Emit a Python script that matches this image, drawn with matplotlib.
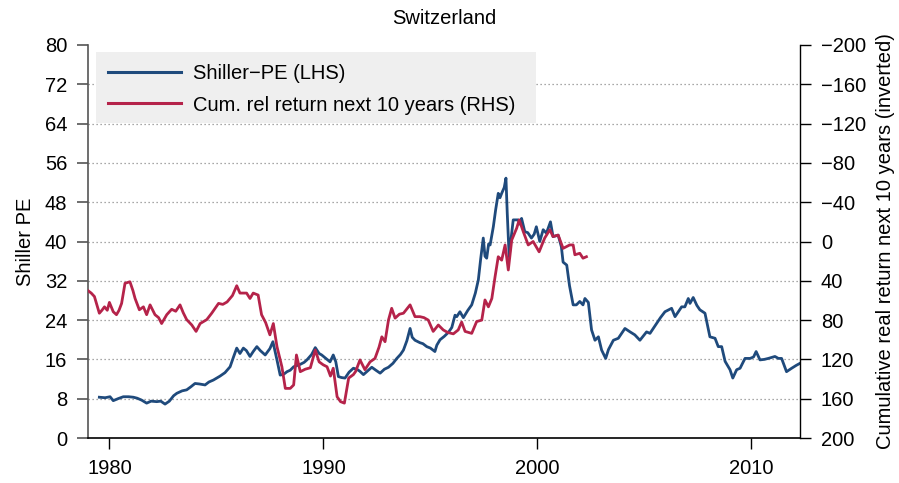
import matplotlib
matplotlib.use("Agg")
import matplotlib.pyplot as plt
from matplotlib.patches import Rectangle

# Shiller PE (left axis)
pe_years = [1979.53, 1979.8, 1980.03, 1980.18, 1980.4, 1980.65, 1980.9, 1981.12, 1981.3, 1981.51,
            1981.74, 1981.95, 1982.21, 1982.4, 1982.6, 1982.8, 1983.0, 1983.15, 1983.4, 1983.61,
            1983.8, 1984.0, 1984.2, 1984.47, 1984.65, 1984.86, 1985.17, 1985.4, 1985.64, 1985.8,
            1985.95, 1986.1, 1986.26, 1986.4, 1986.57, 1986.72, 1986.89, 1987.05, 1987.28, 1987.5,
            1987.64, 1987.75, 1987.83, 1987.98, 1988.15, 1988.3, 1988.45, 1988.61, 1988.8, 1988.92,
            1989.1, 1989.23, 1989.45, 1989.62, 1989.8, 1989.92, 1990.17, 1990.31, 1990.46, 1990.58,
            1990.7, 1990.85, 1991.01, 1991.2, 1991.4, 1991.56, 1991.7, 1991.87, 1992.05, 1992.26,
            1992.45, 1992.65, 1992.85, 1993.04, 1993.25, 1993.43, 1993.6, 1993.74, 1993.9, 1994.05,
            1994.15, 1994.28, 1994.51, 1994.65, 1994.83, 1995.0, 1995.21, 1995.3, 1995.45, 1995.65,
            1995.84, 1996.0, 1996.15, 1996.23, 1996.38, 1996.54, 1996.75, 1996.93, 1997.1, 1997.24,
            1997.35, 1997.47, 1997.55, 1997.63, 1997.72, 1997.79, 1997.94, 1998.05, 1998.17, 1998.25,
            1998.33, 1998.45, 1998.53, 1998.59, 1998.68, 1998.78, 1998.87, 1999.1, 1999.2, 1999.26,
            1999.41, 1999.55, 1999.72, 1999.85, 1999.95, 2000.11, 2000.27, 2000.42, 2000.61, 2000.73,
            2000.97, 2001.12, 2001.2, 2001.37, 2001.5, 2001.67, 2001.82, 2001.98, 2002.13, 2002.22,
            2002.38, 2002.53, 2002.69, 2002.85, 2003.0, 2003.19, 2003.32, 2003.55, 2003.78, 2004.09,
            2004.33, 2004.55, 2004.79, 2005.1, 2005.26, 2005.57, 2005.75, 2005.96, 2006.27, 2006.43,
            2006.74, 2006.89, 2007.05, 2007.13, 2007.28, 2007.45, 2007.59, 2007.83, 2008.06, 2008.3,
            2008.45, 2008.61, 2008.77, 2009.0, 2009.13, 2009.31, 2009.47, 2009.7, 2009.94, 2010.1,
            2010.22, 2010.4, 2010.6, 2010.79, 2011.1, 2011.26, 2011.41, 2011.64, 2011.88, 2012.1,
            2012.27]
pe_values = [8.3, 8.2, 8.4, 7.6, 8.0, 8.4, 8.4, 8.3, 8.1, 7.7,
             7.1, 7.5, 7.4, 7.5, 6.9, 7.5, 8.6, 9.1, 9.6, 9.8,
             10.4, 11.1, 11.0, 10.8, 11.4, 11.8, 12.6, 13.3, 14.5, 16.5,
             18.3, 17.2, 18.3, 17.8, 16.6, 17.6, 18.6, 17.8, 16.9, 18.2,
             19.6, 17.5, 15.9, 12.8, 13.0, 13.5, 13.8, 14.5, 14.8, 15.0,
             15.4, 15.9, 17.0, 18.4, 17.2, 16.9, 16.0, 15.5, 16.9, 15.5,
             12.5, 12.3, 12.2, 13.4, 14.2, 14.0, 13.6, 12.9, 13.6, 14.4,
             13.8, 13.2, 14.0, 14.4, 15.2, 16.2, 17.0, 17.9, 19.8, 22.3,
             20.5, 19.9, 19.4, 19.2, 18.6, 18.3, 17.6, 18.9, 20.0, 20.7,
             21.5, 22.5, 25.0, 24.7, 25.7, 24.5, 26.0, 27.1, 29.5, 32.2,
             36.5, 40.7, 37.0, 36.6, 39.5, 39.3, 43.0, 46.5, 49.8, 48.9,
             49.8, 51.0, 52.9, 45.8, 36.9, 41.0, 44.4, 44.4, 43.5, 44.7,
             42.0, 41.8, 40.7, 41.5, 43.0, 40.0, 42.4, 41.7, 44.0, 41.0,
             41.3, 38.9, 35.8, 35.2, 31.0, 27.1, 27.1, 27.8, 27.1, 28.4,
             27.6, 22.0, 19.9, 20.6, 17.9, 16.2, 18.0, 19.9, 20.3, 22.3,
             21.6, 21.0, 19.9, 21.6, 21.3, 23.3, 24.5, 25.7, 26.4, 24.7,
             26.7, 26.7, 28.4, 27.4, 28.6, 27.0, 26.1, 25.4, 20.6, 20.3,
             18.6, 18.6, 15.6, 13.9, 12.2, 13.9, 14.2, 16.2, 16.2, 16.5,
             17.6, 15.9, 16.0, 16.2, 16.6, 16.2, 16.2, 13.5, 14.2, 14.8,
             15.2]

# Cumulative real return next 10 years (right axis, inverted)
ret_years = [1979.0, 1979.15, 1979.3, 1979.53, 1979.65, 1979.77, 1979.9, 1980.0, 1980.18, 1980.33,
             1980.45, 1980.57, 1980.73, 1980.96, 1981.1, 1981.2, 1981.4, 1981.59, 1981.74, 1981.9,
             1982.13, 1982.3, 1982.44, 1982.68, 1982.91, 1983.1, 1983.3, 1983.45, 1983.61, 1983.85,
             1984.05, 1984.24, 1984.55, 1984.78, 1985.1, 1985.3, 1985.5, 1985.75, 1985.95, 1986.1,
             1986.41, 1986.57, 1986.72, 1986.95, 1987.11, 1987.3, 1987.5, 1987.66, 1987.83, 1988.06,
             1988.22, 1988.45, 1988.61, 1988.74, 1988.92, 1989.15, 1989.39, 1989.62, 1989.8, 1989.99,
             1990.17, 1990.33, 1990.46, 1990.64, 1990.8, 1990.98, 1991.18, 1991.4, 1991.5, 1991.71,
             1991.94, 1992.18, 1992.41, 1992.6, 1992.73, 1992.88, 1993.04, 1993.19, 1993.35, 1993.55,
             1993.74, 1994.05, 1994.28, 1994.51, 1994.7, 1994.9, 1995.13, 1995.37, 1995.6, 1995.8,
             1996.07, 1996.3, 1996.46, 1996.62, 1996.93, 1997.16, 1997.4, 1997.55, 1997.71, 1997.87,
             1998.02, 1998.17, 1998.33, 1998.49, 1998.64, 1998.8, 1999.03, 1999.15, 1999.34, 1999.57,
             1999.8, 2000.08, 2000.34, 2000.58, 2000.73, 2000.97, 2001.2, 2001.51, 2001.67, 2001.75,
             2001.98, 2002.13, 2002.29]
ret_values = [50, 52.5, 56, 73, 70, 66.5, 70, 62, 71.5, 74.5,
              70, 63, 42.5, 41, 50, 58, 69.5, 66.5, 74.5, 64.5,
              74.5, 77.5, 83.5, 74.5, 69, 71, 64.5, 72.5, 79.5, 85,
              91.5, 83.5, 79.5, 73, 63, 64, 61.5, 55, 45, 52.5,
              52.5, 58, 52.5, 54.5, 74.5, 82.5, 95, 83.5, 107, 127.5,
              149.5, 149.5, 146, 115.5, 132.5, 130, 128.5, 110.5, 122.5, 125.5,
              127.5, 137, 129, 158, 163, 164.5, 139, 135.5, 132.5, 120.5,
              130.5, 122.5, 119, 107.5, 97, 102, 80, 68, 78, 74,
              73, 64.5, 76.5, 76.5, 77.5, 80, 91.5, 85, 90, 92.5,
              94, 90, 82, 91.5, 93.5, 81.5, 80, 59.5, 66.5, 58,
              36, 15.5, 19, 3.5, 29, -1.5, -13.5, -22, -10, 3.5,
              0, 10.5, -3.5, -12, -5, -6.5, 7, 3.5, 3.5, 13.5,
              12, 17, 15.5]

blue = '#1f4a7c'
red = '#b5234a'
fs = 14.5

plt.rcParams['font.family'] = ['Liberation Sans', 'DejaVu Sans']
plt.rcParams['font.size'] = fs

fig = plt.figure(figsize=(8.99, 4.83), dpi=100)
ax = fig.add_axes([88 / 899, 1 - 438 / 483, 712 / 899, 393 / 483])
ax2 = ax.twinx()

ax.plot(pe_years, pe_values, color=blue, lw=2.0, label='Shiller\u2212PE (LHS)')
ax2.plot(ret_years, ret_values, color=red, lw=2.0, label='Cum. rel return next 10 years (RHS)')

ax.set_xlim(1979.0, 2012.27)
ax.set_ylim(0, 80)
ax.set_yticks(range(0, 81, 8))
ax.set_xticks([1980, 1990, 2000, 2010])
ax2.set_ylim(200, -200)
ax2.set_yticks(range(-200, 201, 40))
ax2.yaxis.set_major_formatter(plt.FuncFormatter(lambda v, p: f'{int(v)}'.replace('-', '\u2212')))

for y in range(8, 80, 8):
    ax.axhline(y, color='#8c8c8c', lw=0.9, ls=(0, (1, 2.2)), zorder=0)

ax.spines['top'].set_visible(False)
ax.spines['right'].set_visible(False)
ax2.spines['top'].set_visible(False)
ax2.spines['left'].set_visible(False)
ax.spines['left'].set_color('#555555')
ax.spines['left'].set_linewidth(1.2)
ax.spines['bottom'].set_linewidth(1.2)
ax2.spines['bottom'].set_visible(False)
ax2.spines['right'].set_linewidth(1.0)

ax.tick_params(axis='y', length=8, width=1.2, color='#555555', pad=7, labelsize=fs)
ax.tick_params(axis='x', length=8, width=1.0, pad=7, labelsize=fs)
ax2.tick_params(axis='y', length=8, width=1.0, pad=7, labelsize=fs)

ax.set_ylabel('Shiller PE', fontsize=fs, labelpad=7)
ax2.set_ylabel('Cumulative real return next 10 years (inverted)', fontsize=fs, labelpad=7)
ax.set_title('Switzerland', fontsize=fs, pad=15)

# legend background box
ax2.add_patch(Rectangle((8 / 712, (438 - 123) / 393), 440 / 712, 71 / 393,
                        transform=ax2.transAxes, facecolor='#efefef', edgecolor='none', zorder=3))
h1, l1 = ax.get_legend_handles_labels()
h2, l2 = ax2.get_legend_handles_labels()
leg = ax2.legend(h1 + h2, l1 + l2, loc='upper left', bbox_to_anchor=(12 / 712, 1 - 11 / 393),
                 frameon=False, fontsize=fs, handlelength=3.6, handletextpad=0.6,
                 labelspacing=0.62, borderaxespad=0)
leg.set_zorder(5)
for line in leg.get_lines():
    line.set_linewidth(2.2)

fig.savefig('out.png', dpi=100)
